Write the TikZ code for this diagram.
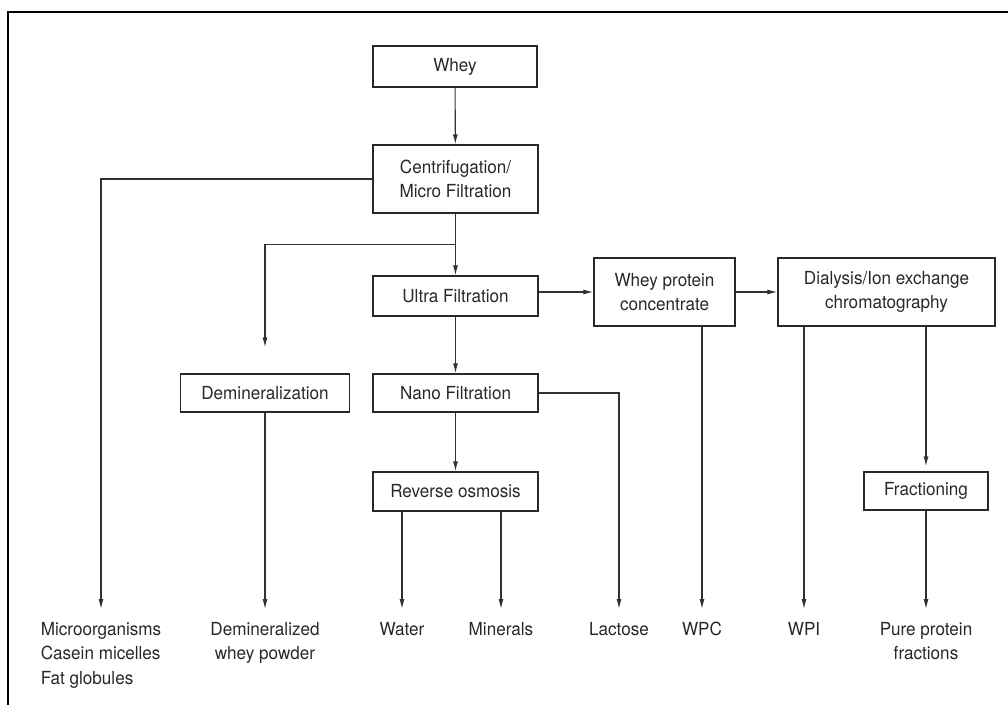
\documentclass[tikz,border=0pt]{standalone}
\usepackage{fontspec}
\setmainfont{TeX Gyre Heros}[FakeStretch=0.95]
\usetikzlibrary{arrows.meta, positioning, calc}
\definecolor{inkgrey}{RGB}{40,40,40}
\definecolor{linegrey}{RGB}{50,50,50}

\tikzset{
  procbox/.style={draw=inkgrey, line width=1.4pt, inner sep=0pt, align=center,
    text=inkgrey, font=\fontsize{18}{24.5}\selectfont},
  outlabel/.style={inner sep=0pt, align=center, anchor=north,
    text=inkgrey, font=\fontsize{18}{24.5}\selectfont},
  flow/.style={draw=linegrey, line width=1.1pt, -{Latex[length=10pt,width=5pt]}},
  flowline/.style={draw=linegrey, line width=1.1pt}
}

\begin{document}
\begin{tikzpicture}[x=1pt, y=-1pt]
  \useasboundingbox (0,0) rectangle (1008,704);
  \draw[line width=2pt] (8,12) rectangle (1040,740);

  % process boxes
  \node[procbox, minimum width=164pt, minimum height=41pt] (whey) at (455,66.5) {Whey};
  \node[procbox, minimum width=165pt, minimum height=68pt] (centri) at (455.5,179) {Centrifugation/\\Micro Filtration};
  \node[procbox, minimum width=165pt, minimum height=40pt] (ultra) at (455.5,296) {Ultra Filtration};
  \node[procbox, minimum width=165pt, minimum height=38pt] (nano) at (455.5,393) {Nano Filtration};
  \node[procbox, minimum width=165pt, minimum height=39pt] (rosmo) at (455.5,491.5) {Reverse osmosis};
  \node[procbox, minimum width=169pt, minimum height=38pt] (demin) at (265,393) {Demineralization};
  \node[procbox, minimum width=141pt, minimum height=68pt] (wpc) at (664.5,292) {Whey protein\\concentrate};
  \node[procbox, minimum width=217pt, minimum height=68pt] (dial) at (886.5,292) {Dialysis/Ion exchange\\chromatography};
  \node[procbox, minimum width=124pt, minimum height=38pt] (fract) at (926,491) {Fractioning};

  % end products
  \node[outlabel, align=left] (micro) at (101,622) {Microorganisms\\Casein micelles\\Fat globules};
  \node[outlabel] (dempow) at (265,622) {Demineralized\\whey powder};
  \node[outlabel] (water) at (402,622) {Water};
  \node[outlabel] (minerals) at (501,622) {Minerals};
  \node[outlabel] (lactose) at (619,622) {Lactose};
  \node[outlabel] (wpclab) at (702,622) {WPC};
  \node[outlabel] (wpilab) at (804,622) {WPI};
  \node[outlabel] (pure) at (926,622) {Pure protein\\fractions};

  \coordinate (split) at ($(centri.south)+(0,31)$);
  \coordinate (demtop) at ($(demin.north)+(0,-26)$);

  % connectors
  \draw[flow] (whey) -- (centri);
  \draw[flow, shorten >=13pt] (centri.west) -| (micro.north);
  \draw[flow] (centri) -- (ultra);
  \draw[flow] (split) -| (demtop);
  \draw[flow] (ultra) -- (nano);
  \draw[flow] (nano) -- (rosmo);
  \draw[flow] (ultra.east |- wpc.west) -- (wpc.west);
  \draw[flow] (wpc) -- (dial);
  \draw[flow, shorten >=13pt] (demin) -- (dempow.north);
  \draw[flow, shorten >=13pt] (water.north |- rosmo.south) -- (water.north);
  \draw[flow, shorten >=13pt] (minerals.north |- rosmo.south) -- (minerals.north);
  \draw[flow, shorten >=13pt] (nano.east) -| (lactose.north);
  \draw[flow, shorten >=13pt] (wpclab.north |- wpc.south) -- (wpclab.north);
  \draw[flow, shorten >=13pt] (wpilab.north |- dial.south) -- (wpilab.north);
  \draw[flow, shorten >=5pt] (fract.north |- dial.south) -- (fract.north);
  \draw[flow, shorten >=13pt] (fract) -- (pure.north);
\end{tikzpicture}
\end{document}
